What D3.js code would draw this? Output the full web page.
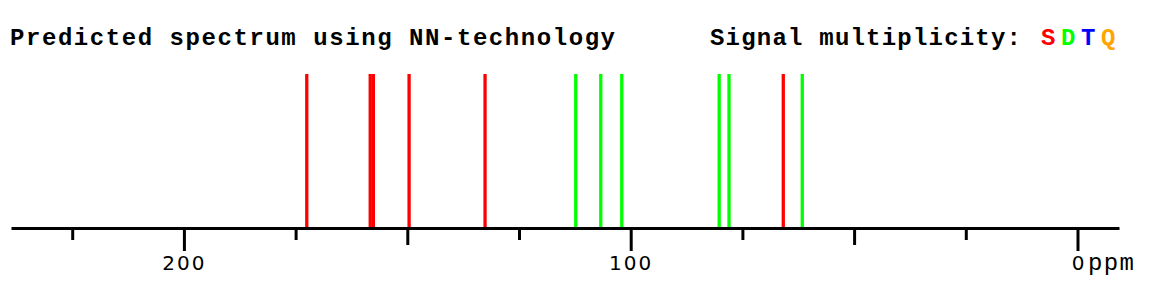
<!DOCTYPE html>
<html>
<head>
<meta charset="utf-8">
<script src="https://cdn.jsdelivr.net/npm/d3@7"></script>
<style>
  body { margin: 0; background: #fff; }
  svg { display: block; }
</style>
</head>
<body>
<svg></svg>
<script>
// predicted shifts (ppm) and their multiplicity
const shifts = [172.5, 158.3, 157.6, 149.6, 132.6, 112.3, 106.7, 102.0, 80.2, 78.0, 65.85, 61.6]
const multiplicity = ['S', 'S', 'S', 'S', 'S', 'D', 'D', 'D', 'D', 'D', 'S', 'D']
const intensity = [1, 1, 1, 1, 1, 1, 1, 1, 1, 1, 1, 1]
const tickValues = [225, 200, 175, 150, 125, 100, 75, 50, 25, 0]
const labelledTicks = [200, 100, 0]
const legendKeys = ['S', 'D', 'T', 'Q']

const colors = { S: '#ff0000', D: '#00ff00', T: '#0000ff', Q: '#ffa500' }

const width = 1173
const height = 290
const axisY = 228
const peakTop = 74

const svg = d3.select('svg')
              .attr('width', width)
              .attr('height', height)

const xScale = d3.scaleLinear()
                 .domain([238.7, -9.29])
                 .range([11, 1119])

const yScale = d3.scaleLinear()
                 .domain([0, 1])
                 .range([axisY, peakTop])

// peaks
svg.append('g')
   .selectAll('line')
   .data(shifts.map((s, i) => ({ s, m: multiplicity[i], h: intensity[i] })))
   .join('line')
   .attr('x1', d => xScale(d.s))
   .attr('x2', d => xScale(d.s))
   .attr('y1', yScale(0))
   .attr('y2', d => yScale(d.h))
   .attr('stroke', d => colors[d.m])
   .attr('stroke-width', 3.3)

// axis
const xAxis = d3.axisBottom(xScale)
                .tickValues(tickValues)
                .tickSizeOuter(0)
                .tickFormat(d => labelledTicks.includes(d) ? d : '')

const axisG = svg.append('g')
                 .attr('transform', `translate(0, ${axisY})`)
                 .call(xAxis)

axisG.select('.domain')
     .attr('stroke', '#000')
     .attr('stroke-width', 3)

axisG.selectAll('.tick line')
     .attr('stroke', '#000')
     .attr('stroke-width', 3)
     .attr('y2', d => labelledTicks.includes(d) ? 23 : (d % 50 === 0 ? 17 : 12))

axisG.selectAll('.tick text')
     .attr('y', 42)
     .attr('dy', 0)
     .attr('fill', '#000')
     .style('font-family', '"DejaVu Sans", sans-serif')
     .style('font-size', '20px')
     .style('letter-spacing', d => d === 0 ? '0px' : '2px')

svg.append('text')
   .text('ppm')
   .attr('x', 1088)
   .attr('y', 270)
   .attr('textLength', 46)
   .attr('lengthAdjust', 'spacing')
   .style('font-family', '"Liberation Mono", monospace')
   .style('font-size', '24px')

// title and legend
const titleFont = '"Liberation Mono", "Courier New", monospace'

svg.append('text')
   .text('Predicted spectrum using NN-technology')
   .attr('x', 10)
   .attr('y', 45)
   .attr('textLength', 605)
   .attr('lengthAdjust', 'spacing')
   .style('font-family', titleFont)
   .style('font-weight', 'bold')
   .style('font-size', '24px')

svg.append('text')
   .text('Signal multiplicity:')
   .attr('x', 710)
   .attr('y', 45)
   .attr('textLength', 311)
   .attr('lengthAdjust', 'spacing')
   .style('font-family', titleFont)
   .style('font-weight', 'bold')
   .style('font-size', '24px')

svg.append('g')
   .selectAll('text')
   .data(legendKeys)
   .join('text')
   .text(d => d)
   .attr('x', (d, i) => 1041 + i * 20)
   .attr('y', 45)
   .attr('fill', d => colors[d])
   .style('font-family', titleFont)
   .style('font-weight', 'bold')
   .style('font-size', '24px')
</script>
</body>
</html>
